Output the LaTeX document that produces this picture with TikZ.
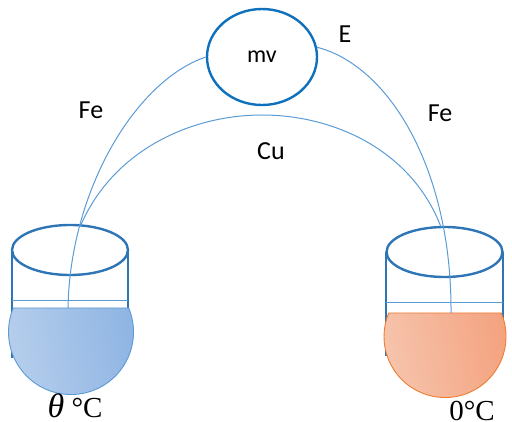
\documentclass[tikz,border=0pt]{standalone}
\usepackage{fontspec}
\setmainfont{Carlito}
\newfontfamily\tempfont{Liberation Serif}
\usetikzlibrary{shapes.geometric}
\definecolor{rim}{HTML}{2E75B6}
\definecolor{meter}{HTML}{0F70BC}
\definecolor{wire}{HTML}{5B9BD5}
\definecolor{hotL}{HTML}{B6CEEC}
\definecolor{hotR}{HTML}{8EB4E3}
\definecolor{coldL}{HTML}{F6C4AD}
\definecolor{coldR}{HTML}{F4A27E}
\definecolor{coldedge}{HTML}{ED7D31}
\tikzset{
  x=1pt,y=1pt,
  mouth/.style={draw=rim,line width=2.4pt,ellipse,minimum width=116pt,minimum height=50pt,inner sep=0pt,fill=none},
  meterbox/.style={draw=meter,line width=2.4pt,ellipse,minimum width=110pt,minimum height=96pt,inner sep=0pt},
  wall/.style={draw=rim,line width=2pt},
  level/.style={draw=wire,line width=1pt},
  wirepath/.style={draw=wire,line width=1pt},
  label/.style={font=\fontsize{26}{30}\selectfont,inner sep=0pt},
  temp/.style={font=\fontsize{29}{32}\selectfont\tempfont,inner sep=0pt,anchor=base}
}
\begin{document}
\begin{tikzpicture}
\useasboundingbox (0,0) rectangle (512,421);
% left beaker
\node[mouth] (lm) at (70,171) {};
\coordinate (lwa) at (12,171); \coordinate (lwb) at (12,63);
\coordinate (rwa) at (128,171); \coordinate (rwb) at (128,100);
\draw[wall] (lwa) -- (lwb);
\draw[wall] (rwa) -- (rwb);
\coordinate (llevA) at (12,120); \coordinate (llevB) at (128,120);
\draw[level] (llevA) -- (llevB);
\path[shade,shading=axis,left color=hotL,right color=hotR,shading angle=100,draw=wire,line width=0.9pt]
  (128.7,113) arc[start angle=22.6,end angle=-202.6,radius=62.5] -- cycle;
% right beaker
\node[mouth] (rm) at (444.5,169) {};
\coordinate (Lwa) at (386,169); \coordinate (Lwb) at (386,65);
\coordinate (Rwa) at (503,169); \coordinate (Rwb) at (503,100);
\draw[wall] (Lwa) -- (Lwb);
\draw[wall] (Rwa) -- (Rwb);
\coordinate (rlevA) at (386,118); \coordinate (rlevB) at (503,118);
\draw[level] (rlevA) -- (rlevB);
\path[shade,shading=axis,left color=coldL,right color=coldR,shading angle=100,draw=coldedge,line width=0.9pt]
  (501.3,108) arc[start angle=22.7,end angle=-202.7,radius=61] -- cycle;
% meter
\node[meterbox,font=\fontsize{24}{28}\selectfont] (mv) at (262,364) {mv};
% wires
\coordinate (feL) at (68,113);
\coordinate (feR) at (451,108);
\coordinate (cuL) at (80,194);
\coordinate (cuR) at (441,194);
\draw[wirepath] (feL) .. controls (70,230) and (135,340) .. (mv.west);
\draw[wirepath] (mv.10) .. controls (390,355) and (452,250) .. (feR);
\draw[wirepath] (cuL) .. controls (112,270) and (190,306) .. (262,306) .. controls (335,306) and (412,270) .. (cuR);
% labels
\node[label] (fe1) at (91,311) {Fe};
\node[label] (fe2) at (440,308) {Fe};
\node[label] (cu) at (271,270) {Cu};
\node[label] (e) at (345,387) {E};
\node[temp] (t1) at (75,4) {{\fontsize{34}{34}\selectfont\itshape θ} °C};
\node[temp] (t2) at (472,1) {0°C};
\end{tikzpicture}
\end{document}
